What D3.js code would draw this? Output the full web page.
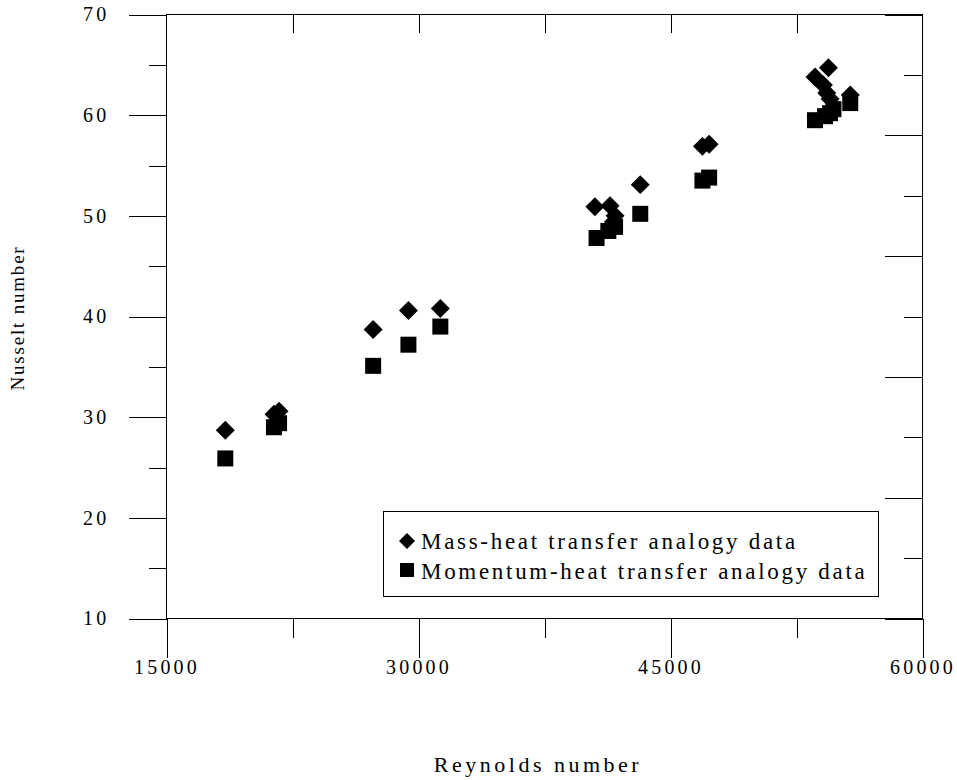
<!DOCTYPE html>
<meta charset="utf-8">
<head>
  <title>Nusselt vs Reynolds</title>
</head>
<style>
    body { margin: 0; background: #fff; }
    svg text {
        font-family: "Liberation Serif", "Times New Roman", serif;
        fill: #000;
    }
    .tick line, .frame { stroke: #000; stroke-width: 1px; shape-rendering: crispEdges; }
</style>
<body>
<svg id="chart" width="957" height="780"></svg>
<script src="https://cdnjs.cloudflare.com/ajax/libs/d3/7.8.5/d3.min.js"></script>
<script>
    // mass-heat transfer analogy data
    var massRe = [18500, 21400, 21700, 27300, 29400, 31300, 40500, 41400, 41700, 41600, 43200, 46900, 47300, 53600, 54100, 54300, 54400, 54500, 55700];
    var massNu = [28.7, 30.3, 30.6, 38.7, 40.6, 40.8, 50.9, 51.0, 50.0, 49.4, 53.1, 56.9, 57.1, 63.8, 63.0, 62.2, 64.7, 61.6, 62.0];

    // momentum-heat transfer analogy data
    var momRe = [18500, 21400, 21700, 27300, 29400, 31300, 40600, 41300, 41700, 43200, 46900, 47300, 53600, 54200, 54500, 54700, 55700];
    var momNu = [25.9, 29.0, 29.4, 35.1, 37.2, 39.0, 47.8, 48.5, 48.9, 50.2, 53.5, 53.8, 59.5, 59.9, 60.2, 60.6, 61.2];

    var xMajor = [15000, 30000, 45000, 60000];
    var xMinor = [22500, 37500, 52500];
    var xTop = [22500, 30000, 37500, 45000, 52500];
    var yMajor = [10, 20, 30, 40, 50, 60, 70];
    var yMinor = [15, 25, 35, 45, 55, 65];
    var rMajor = [10, 22, 34, 46, 58, 70];
    var rMinor = [16, 28, 40, 52, 64];

    var legendLabels = ["Mass-heat transfer analogy data", "Momentum-heat transfer analogy data"];

    var mLeft = 166.5, mRight = 922.5, mTop = 14.5, mBottom = 618.5;

    var svg = d3.select("#chart");

    var x = d3.scaleLinear().domain([15000, 60000]).range([mLeft, mRight]);
    var y = d3.scaleLinear().domain([10, 70]).range([mBottom, mTop]);
    var yRight = d3.scaleLinear().domain([10, 70]).range([mBottom, mTop]);

    function clean(g) {
        g.select(".domain").remove();
        g.selectAll("text")
            .style("font-size", "20px")
            .style("letter-spacing", "3.2px");
    }

    // left axis
    svg.append("g")
        .attr("transform", "translate(" + mLeft + ",0)")
        .call(d3.axisLeft(y).tickValues(yMajor).tickSize(38).tickPadding(19).tickFormat(d3.format("d")))
        .call(clean);
    svg.append("g")
        .attr("transform", "translate(" + mLeft + ",0)")
        .call(d3.axisLeft(y).tickValues(yMinor).tickSize(18).tickFormat(""))
        .call(clean);

    // bottom axis
    svg.append("g")
        .attr("transform", "translate(0," + mBottom + ")")
        .call(d3.axisBottom(x).tickValues(xMajor).tickSize(39).tickPadding(2).tickFormat(d3.format("d")))
        .call(clean);
    svg.append("g")
        .attr("transform", "translate(0," + mBottom + ")")
        .call(d3.axisBottom(x).tickValues(xMinor).tickSize(19).tickFormat(""))
        .call(clean);

    // top axis, inward ticks
    svg.append("g")
        .attr("transform", "translate(0," + mTop + ")")
        .call(d3.axisTop(x).tickValues(xTop).tickSize(-18).tickFormat(""))
        .call(clean);

    // right axis, inward ticks on its own spacing
    svg.append("g")
        .attr("transform", "translate(" + mRight + ",0)")
        .call(d3.axisRight(yRight).tickValues(rMajor).tickSize(-38).tickFormat(""))
        .call(clean);
    svg.append("g")
        .attr("transform", "translate(" + mRight + ",0)")
        .call(d3.axisRight(yRight).tickValues(rMinor).tickSize(-19).tickFormat(""))
        .call(clean);

    // frame
    svg.append("rect")
        .attr("class", "frame")
        .attr("x", mLeft).attr("y", mTop)
        .attr("width", mRight - mLeft).attr("height", mBottom - mTop)
        .style("fill", "none");

    var diamond = d3.symbol().type(d3.symbolSquare).size(180);
    var square = d3.symbol().type(d3.symbolSquare).size(256);

    svg.append("g").selectAll("path")
        .data(d3.range(massRe.length))
        .enter().append("path")
        .attr("d", diamond)
        .attr("transform", function(i) { return "translate(" + x(massRe[i]) + "," + y(massNu[i]) + ") rotate(45)"; })
        .style("fill", "#000");

    svg.append("g").selectAll("path")
        .data(d3.range(momRe.length))
        .enter().append("path")
        .attr("d", square)
        .attr("transform", function(i) { return "translate(" + x(momRe[i]) + "," + y(momNu[i]) + ")"; })
        .style("fill", "#000");

    // legend
    var legend = svg.append("g");
    legend.append("rect")
        .attr("class", "frame")
        .attr("x", 383.5).attr("y", 511.5)
        .attr("width", 495).attr("height", 85)
        .style("fill", "#fff");

    legend.append("path")
        .attr("d", d3.symbol().type(d3.symbolSquare).size(128))
        .attr("transform", "translate(407,541) rotate(45)");
    legend.append("path")
        .attr("d", d3.symbol().type(d3.symbolSquare).size(196))
        .attr("transform", "translate(407,570)");

    legend.selectAll("text")
        .data(legendLabels)
        .enter().append("text")
        .attr("x", 421)
        .attr("y", function(d, i) { return 549 + i * 30; })
        .style("font-size", "23px")
        .style("letter-spacing", "2.7px")
        .text(function(d) { return d; });

    // axis titles
    svg.append("text")
        .attr("x", 538)
        .attr("y", 772)
        .attr("text-anchor", "middle")
        .style("font-size", "22px")
        .style("letter-spacing", "3.5px")
        .text("Reynolds number");

    svg.append("text")
        .attr("transform", "translate(24,318) rotate(-90)")
        .attr("text-anchor", "middle")
        .style("font-size", "19px")
        .style("letter-spacing", "1.8px")
        .text("Nusselt number");
</script>
</body>
